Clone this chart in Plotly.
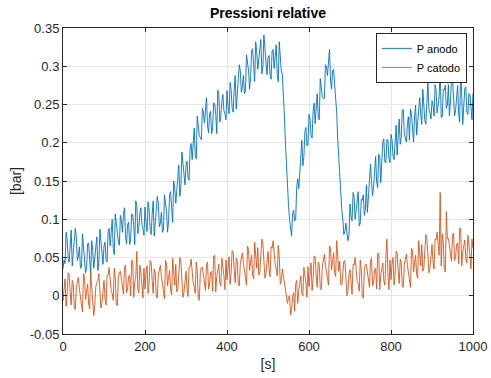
import plotly.graph_objects as go

# sample times [s] (every 2.5 s, 0..1000)
t = [i * 2.5 for i in range(401)]

# P anodo [bar]
p_anodo = [
    0.035, 0.047, 0.042, 0.083, 0.074, 0.049, 0.044, 0.070, 0.086, 0.039, 0.057, 0.074, 0.088, 0.077, 0.046, 0.051, 0.064, 0.036, 0.037, 0.081,
    0.067, 0.054, 0.030, 0.037, 0.068, 0.069, 0.045, 0.028, 0.072, 0.059, 0.036, 0.049, 0.060, 0.077, 0.033, 0.044, 0.087, 0.072, 0.049, 0.041,
    0.065, 0.070, 0.047, 0.044, 0.084, 0.088, 0.065, 0.083, 0.100, 0.062, 0.054, 0.107, 0.092, 0.076, 0.071, 0.066, 0.105, 0.098, 0.083, 0.107,
    0.115, 0.077, 0.068, 0.093, 0.096, 0.067, 0.074, 0.107, 0.106, 0.092, 0.067, 0.124, 0.118, 0.081, 0.089, 0.108, 0.115, 0.093, 0.088, 0.079,
    0.116, 0.096, 0.084, 0.123, 0.112, 0.086, 0.080, 0.107, 0.124, 0.078, 0.097, 0.115, 0.130, 0.120, 0.090, 0.095, 0.109, 0.083, 0.086, 0.132,
    0.120, 0.110, 0.083, 0.098, 0.132, 0.136, 0.115, 0.096, 0.150, 0.140, 0.121, 0.138, 0.152, 0.171, 0.130, 0.143, 0.188, 0.174, 0.152, 0.145,
    0.170, 0.176, 0.154, 0.151, 0.192, 0.199, 0.178, 0.199, 0.219, 0.184, 0.179, 0.235, 0.222, 0.209, 0.207, 0.204, 0.245, 0.240, 0.226, 0.251,
    0.259, 0.222, 0.213, 0.238, 0.241, 0.212, 0.219, 0.252, 0.251, 0.237, 0.212, 0.269, 0.263, 0.227, 0.235, 0.255, 0.263, 0.242, 0.238, 0.230,
    0.268, 0.249, 0.238, 0.279, 0.269, 0.245, 0.240, 0.269, 0.288, 0.244, 0.265, 0.285, 0.302, 0.294, 0.266, 0.273, 0.288, 0.264, 0.268, 0.315,
    0.304, 0.295, 0.270, 0.285, 0.320, 0.323, 0.301, 0.280, 0.332, 0.319, 0.296, 0.309, 0.320, 0.335, 0.290, 0.299, 0.341, 0.324, 0.299, 0.289,
    0.311, 0.314, 0.289, 0.283, 0.320, 0.322, 0.297, 0.313, 0.328, 0.289, 0.280, 0.332, 0.316, 0.293, 0.290, 0.268, 0.235, 0.200, 0.165, 0.140,
    0.118, 0.100, 0.085, 0.078, 0.108, 0.112, 0.098, 0.100, 0.142, 0.153, 0.140, 0.160, 0.185, 0.203, 0.170, 0.181, 0.215, 0.220, 0.196, 0.197,
    0.237, 0.231, 0.210, 0.206, 0.241, 0.252, 0.225, 0.250, 0.264, 0.234, 0.230, 0.284, 0.275, 0.260, 0.258, 0.258, 0.302, 0.299, 0.288, 0.313,
    0.322, 0.282, 0.270, 0.294, 0.296, 0.276, 0.262, 0.240, 0.205, 0.178, 0.148, 0.128, 0.112, 0.100, 0.080, 0.084, 0.095, 0.082, 0.072, 0.079,
    0.120, 0.103, 0.098, 0.135, 0.130, 0.100, 0.110, 0.121, 0.136, 0.091, 0.095, 0.126, 0.125, 0.132, 0.105, 0.113, 0.145, 0.109, 0.132, 0.165,
    0.172, 0.149, 0.131, 0.142, 0.166, 0.182, 0.149, 0.141, 0.185, 0.182, 0.148, 0.175, 0.201, 0.205, 0.175, 0.174, 0.204, 0.204, 0.180, 0.174,
    0.211, 0.204, 0.182, 0.178, 0.213, 0.223, 0.184, 0.219, 0.231, 0.198, 0.207, 0.243, 0.243, 0.211, 0.205, 0.201, 0.225, 0.234, 0.203, 0.244,
    0.237, 0.216, 0.201, 0.234, 0.249, 0.210, 0.229, 0.251, 0.259, 0.237, 0.224, 0.270, 0.250, 0.229, 0.224, 0.258, 0.279, 0.244, 0.240, 0.231,
    0.255, 0.249, 0.235, 0.276, 0.269, 0.239, 0.248, 0.260, 0.298, 0.233, 0.234, 0.270, 0.269, 0.275, 0.245, 0.249, 0.276, 0.235, 0.253, 0.282,
    0.284, 0.258, 0.235, 0.242, 0.262, 0.275, 0.238, 0.227, 0.298, 0.261, 0.224, 0.248, 0.271, 0.273, 0.240, 0.237, 0.264, 0.263, 0.238, 0.230,
    0.265,
]

# P catodo [bar]
p_catodo = [
    -0.007, 0.013, 0.022, -0.014, 0.000, 0.030, 0.028, 0.004, -0.012, 0.020, 0.015, -0.016, -0.018, 0.011, 0.019, 0.024, 0.009, -0.006, -0.011, -0.021,
    0.029, 0.024, -0.005, 0.006, 0.015, -0.011, -0.017, 0.031, 0.011, -0.003, -0.026, -0.012, 0.012, 0.017, 0.020, 0.029, 0.004, -0.016, -0.009, 0.013,
    0.020, -0.003, -0.012, 0.027, 0.027, 0.037, 0.014, 0.007, 0.003, -0.006, 0.036, 0.024, -0.011, -0.013, 0.024, 0.031, 0.032, 0.019, 0.010, 0.002,
    0.037, 0.040, 0.004, 0.009, 0.025, 0.027, 0.000, 0.046, 0.046, -0.002, 0.018, 0.024, 0.058, 0.009, 0.004, 0.040, 0.030, 0.016, -0.003, 0.036,
    0.009, 0.029, 0.039, 0.003, 0.016, 0.046, 0.044, 0.020, 0.003, 0.035, 0.030, -0.001, -0.003, 0.027, 0.035, 0.040, 0.025, 0.011, 0.006, -0.004,
    0.046, 0.042, 0.013, 0.024, 0.033, 0.007, 0.001, 0.049, 0.028, 0.014, 0.041, 0.005, 0.008, 0.033, 0.050, 0.044, 0.018, -0.002, 0.004, 0.026,
    0.032, 0.009, -0.001, 0.038, 0.038, 0.048, 0.024, 0.017, 0.012, 0.003, 0.044, 0.032, -0.004, -0.006, 0.030, 0.037, 0.037, 0.024, 0.015, 0.007,
    0.041, 0.044, 0.009, 0.014, 0.030, 0.032, 0.006, 0.052, 0.053, 0.005, 0.025, 0.031, 0.041, 0.017, 0.013, 0.049, 0.040, 0.026, 0.008, 0.047,
    0.021, 0.041, 0.051, 0.015, 0.029, 0.059, 0.057, 0.033, 0.017, 0.049, 0.045, 0.014, 0.013, 0.043, 0.051, 0.056, 0.042, 0.028, 0.024, 0.014,
    0.065, 0.061, 0.033, 0.044, 0.053, 0.027, 0.022, 0.070, 0.050, 0.036, 0.063, 0.027, 0.031, 0.056, 0.074, 0.068, 0.043, 0.023, 0.029, 0.051,
    0.058, 0.035, 0.025, 0.064, 0.062, 0.072, 0.048, 0.041, 0.035, 0.026, 0.066, 0.051, 0.015, 0.020, 0.035, 0.025, 0.018, 0.009, -0.006, -0.010,
    -0.002, 0.000, -0.025, -0.019, -0.001, 0.004, -0.020, 0.015, 0.020, -0.010, 0.007, 0.015, 0.026, 0.003, 0.000, 0.037, 0.029, 0.016, -0.002, 0.038,
    0.012, 0.033, 0.043, 0.007, 0.021, 0.052, 0.051, 0.027, 0.011, 0.044, 0.040, 0.009, 0.008, 0.039, 0.048, 0.054, 0.040, 0.027, 0.023, 0.014,
    0.065, 0.062, 0.034, 0.046, 0.056, 0.030, 0.025, 0.072, 0.050, 0.032, 0.045, 0.015, 0.014, 0.037, 0.045, 0.046, 0.020, 0.000, 0.006, 0.028,
    0.034, 0.011, 0.002, 0.041, 0.040, 0.050, 0.026, 0.019, 0.015, 0.006, 0.047, 0.035, -0.001, -0.003, 0.034, 0.041, 0.041, 0.028, 0.019, 0.011,
    0.046, 0.049, 0.013, 0.018, 0.034, 0.036, 0.009, 0.055, 0.056, 0.008, 0.027, 0.033, 0.043, 0.019, 0.014, 0.050, 0.074, 0.027, 0.008, 0.047,
    0.021, 0.041, 0.050, 0.014, 0.028, 0.058, 0.056, 0.032, 0.016, 0.048, 0.043, 0.012, 0.011, 0.041, 0.049, 0.054, 0.040, 0.026, 0.021, 0.011,
    0.062, 0.059, 0.031, 0.043, 0.053, 0.028, 0.023, 0.072, 0.052, 0.039, 0.067, 0.032, 0.036, 0.062, 0.080, 0.075, 0.050, 0.030, 0.037, 0.060,
    0.067, 0.044, 0.035, 0.074, 0.073, 0.083, 0.060, 0.053, 0.135, 0.039, 0.081, 0.069, 0.033, 0.031, 0.110, 0.074, 0.075, 0.062, 0.053, 0.045,
    0.079, 0.082, 0.046, 0.051, 0.067, 0.069, 0.042, 0.088, 0.088, 0.039, 0.058, 0.064, 0.073, 0.048, 0.043, 0.079, 0.069, 0.054, 0.035, 0.074,
    0.062,
]

series_names = ["P anodo", "P catodo"]
series_colors = ["#0072BD", "#D95319"]

y_tickvals = [-0.05, 0, 0.05, 0.1, 0.15, 0.2, 0.25, 0.3, 0.35]
y_ticktext = ["-0.05", "0", "0.05", "0.1", "0.15", "0.2", "0.25", "0.3", "0.35"]
x_tickvals = [0, 200, 400, 600, 800, 1000]

FONT = "Liberation Sans, Arial, Helvetica, sans-serif"
AX = "#262626"

fig = go.Figure()
for name, ys, col in zip(series_names, [p_anodo, p_catodo], series_colors):
    fig.add_trace(go.Scatter(x=t, y=ys, mode="lines", name=name,
                             line=dict(color=col, width=0.9)))

axis_common = dict(
    showline=True, linecolor=AX, linewidth=1, mirror="ticks",
    ticks="inside", ticklen=4, tickcolor=AX, automargin=False,
    showgrid=True, gridcolor="#e5e5e5", gridwidth=1,
    zeroline=False, tickfont=dict(family=FONT, size=13, color=AX),
)

fig.update_xaxes(range=[0, 1000], tickvals=x_tickvals,
                 title=dict(text="[s]", font=dict(family=FONT, size=14, color=AX), standoff=6),
                 **axis_common)
fig.update_yaxes(range=[-0.05, 0.35], tickvals=y_tickvals, ticktext=y_ticktext,
                 title=dict(text="[bar]", font=dict(family=FONT, size=14, color=AX), standoff=4),
                 **axis_common)

fig.update_layout(
    width=491, height=378,
    margin=dict(l=63, r=18, t=28, b=44),
    paper_bgcolor="white", plot_bgcolor="white",
    title=dict(text="<b>Pressioni relative</b>", x=0.5, xanchor="center",
               xref="paper", y=1 - 13 / 378, yanchor="middle",
               font=dict(family=FONT, size=14, color="black")),
    legend=dict(x=0.985, y=0.984, xanchor="right", yanchor="top",
                bgcolor="white", bordercolor=AX, borderwidth=1,
                font=dict(family=FONT, size=11, color="black"),
                itemwidth=30, tracegroupgap=0),
    showlegend=True,
)

fig.write_html("out.html")
